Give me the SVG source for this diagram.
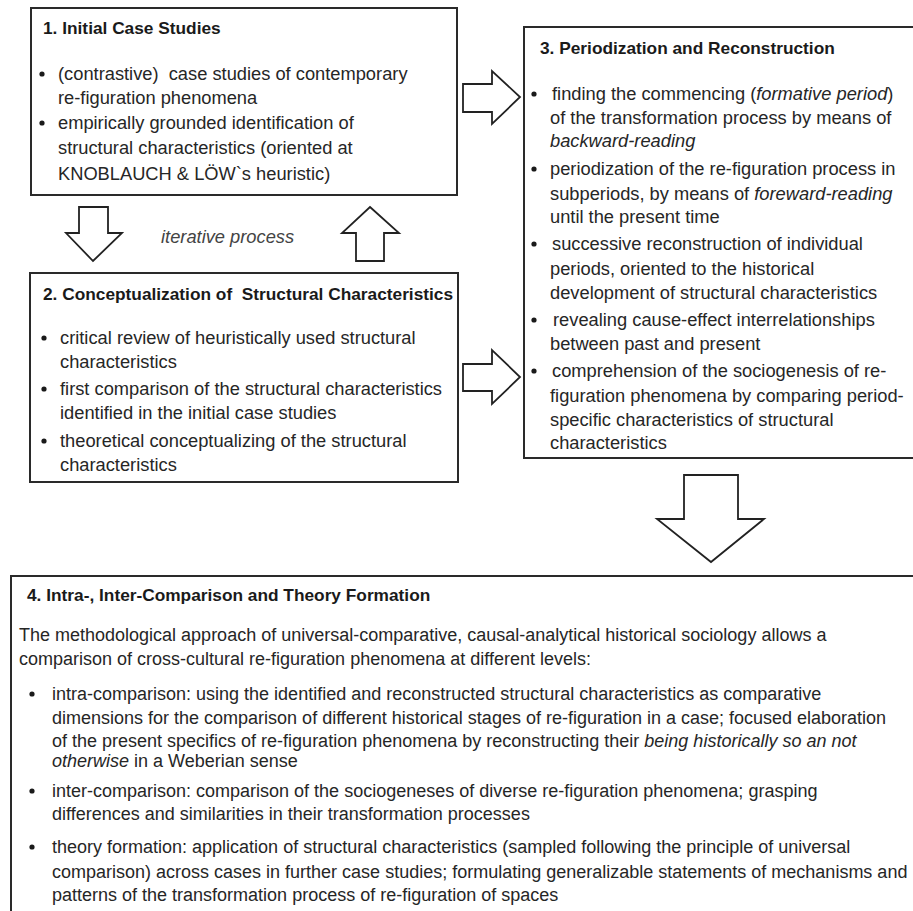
<svg xmlns="http://www.w3.org/2000/svg" width="913" height="911" viewBox="0 0 913 911">
<style>
.box{fill:#fff;stroke:#2a2a2a;stroke-width:2}
.arr{fill:#fff;stroke:#222;stroke-width:1.8;stroke-linejoin:miter}
text{font-family:"Liberation Sans",Arial,sans-serif;font-size:18.3px;fill:#262626}
.t{font-weight:bold;font-size:17.3px;fill:#1a1a1a}
.i{font-style:italic}
.s{font-size:18px}
.dot{fill:#1a1a1a}
</style>
<rect width="913" height="911" fill="#fff"/>
<g id="connectors">
<polygon class="arr" points="463,84 492,84 492,71 520,97 492,124 492,112 463,112"/>
<polygon class="arr" points="463,364 492,364 492,350 520,377 492,404 492,391 463,391"/>
<polygon class="arr" points="79,207 108,207 108,233 122,233 93,261 66,233 79,233"/>
<polygon class="arr" points="370,207 399,233 384,233 384,261 356,261 356,233 342,233"/>
<polygon class="arr" points="684,475 738,475 738,519 764,519 711,562 657,519 684,519"/>
<text class="i" x="161" y="243" style="fill:#444">iterative process</text>
</g>
<g id="node1">
<rect class="box" x="31" y="8" width="426" height="187"/>
<text class="t" x="43" y="34">1. Initial Case Studies</text>
<circle class="dot" cx="42" cy="74" r="2.6"/>
<text x="58" y="80" xml:space="preserve">(contrastive)  case studies of contemporary</text>
<text x="58" y="104">re-figuration phenomena</text>
<circle class="dot" cx="42" cy="123" r="2.6"/>
<text x="58" y="129">empirically grounded identification of</text>
<text x="58" y="154">structural characteristics (oriented at</text>
<text x="58" y="180">KNOBLAUCH &amp; LÖW`s heuristic)</text>
</g>
<g id="node2">
<rect class="box" x="30" y="273" width="428" height="209"/>
<text class="t" x="43" y="300" xml:space="preserve">2. Conceptualization of  Structural Characteristics</text>
<circle class="dot" cx="44" cy="338" r="2.6"/>
<text x="60" y="344">critical review of heuristically used structural</text>
<text x="60" y="368">characteristics</text>
<circle class="dot" cx="44" cy="389" r="2.6"/>
<text x="60" y="395">first comparison of the structural characteristics</text>
<text x="60" y="419">identified in the initial case studies</text>
<circle class="dot" cx="44" cy="441" r="2.6"/>
<text x="60" y="447">theoretical conceptualizing of the structural</text>
<text x="60" y="471">characteristics</text>
</g>
<g id="node3">
<rect class="box" x="524" y="27" width="395" height="431"/>
<text class="t" x="540" y="54">3. Periodization and Reconstruction</text>
<circle class="dot" cx="534" cy="94" r="2.6"/>
<text x="552" y="100">finding the commencing (<tspan class="i">formative period</tspan>)</text>
<text x="550" y="124">of the transformation process by means of</text>
<text x="550" y="147" class="i">backward-reading</text>
<circle class="dot" cx="534" cy="169" r="2.6"/>
<text x="550" y="175">periodization of the re-figuration process in</text>
<text x="550" y="200">subperiods, by means of <tspan class="i">foreward-reading</tspan></text>
<text x="550" y="223">until the present time</text>
<circle class="dot" cx="534" cy="244" r="2.6"/>
<text x="552" y="250">successive reconstruction of individual</text>
<text x="550" y="275">periods, oriented to the historical</text>
<text x="550" y="299">development of structural characteristics</text>
<circle class="dot" cx="534" cy="320" r="2.6"/>
<text x="553" y="326">revealing cause-effect interrelationships</text>
<text x="550" y="350">between past and present</text>
<circle class="dot" cx="534" cy="371" r="2.6"/>
<text x="552" y="377">comprehension of the sociogenesis of re-</text>
<text x="550" y="402">figuration phenomena by comparing period-</text>
<text x="550" y="426">specific characteristics of structural</text>
<text x="550" y="449">characteristics</text>
</g>
<g id="node4">
<rect class="box" x="11" y="576" width="910" height="345"/>
<text class="t" x="27" y="601">4. Intra-, Inter-Comparison and Theory Formation</text>
<text class="s" x="19" y="641">The methodological approach of universal-comparative, causal-analytical historical sociology allows a</text>
<text class="s" x="19" y="665">comparison of cross-cultural re-figuration phenomena at different levels:</text>
<circle class="dot" cx="32" cy="694" r="2.6"/>
<text class="s" x="52" y="700">intra-comparison: using the identified and reconstructed structural characteristics as comparative</text>
<text class="s" x="52" y="724">dimensions for the comparison of different historical stages of re-figuration in a case; focused elaboration</text>
<text class="s" x="52" y="747">of the present specifics of re-figuration phenomena by reconstructing their <tspan class="i">being historically so an not</tspan></text>
<text class="s" x="52" y="767"><tspan class="i">otherwise</tspan> in a Weberian sense</text>
<circle class="dot" cx="32" cy="791" r="2.6"/>
<text class="s" x="52" y="797">inter-comparison: comparison of the sociogeneses of diverse re-figuration phenomena; grasping</text>
<text class="s" x="52" y="820">differences and similarities in their transformation processes</text>
<circle class="dot" cx="32" cy="847" r="2.6"/>
<text class="s" x="52" y="853">theory formation: application of structural characteristics (sampled following the principle of universal</text>
<text class="s" x="52" y="878">comparison) across cases in further case studies; formulating generalizable statements of mechanisms and</text>
<text class="s" x="52" y="901">patterns of the transformation process of re-figuration of spaces</text>
</g>
</svg>
